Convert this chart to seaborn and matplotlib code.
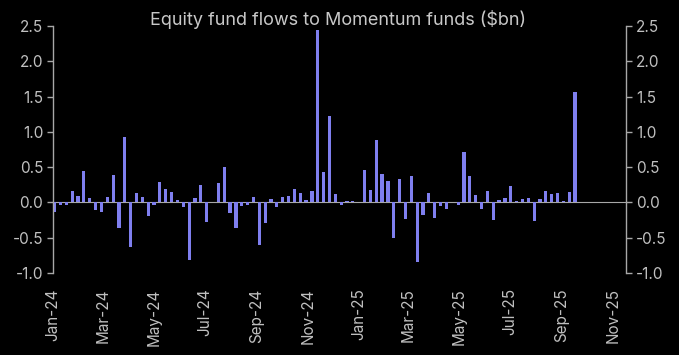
import numpy as np
import pandas as pd
import matplotlib
matplotlib.use("Agg")
from matplotlib import pyplot as plt
import matplotlib.dates as mdates
import seaborn as sns

# weekly flows, $bn
flows = [-0.14, -0.03, -0.03, 0.16, 0.09, 0.44, 0.06, -0.11, -0.14, 0.08,
         0.39, -0.36, 0.92, -0.63, 0.13, 0.07, -0.19, -0.04, 0.29, 0.19,
         0.15, 0.04, -0.06, -0.81, 0.06, 0.24, -0.28, 0.01, 0.27, 0.50,
         -0.15, -0.36, -0.05, -0.03, 0.08, -0.60, -0.29, 0.05, -0.06, 0.08,
         0.09, 0.19, 0.13, 0.03, 0.16, 2.44, 0.43, 1.22, 0.12, -0.04,
         0.02, 0.02, 0.01, 0.46, 0.17, 0.89, 0.40, 0.31, -0.50, 0.33,
         -0.24, 0.37, -0.85, -0.18, 0.13, -0.22, -0.05, -0.10, 0.01, -0.04,
         0.71, 0.38, 0.11, -0.09, 0.16, -0.25, 0.03, 0.06, 0.23, 0.02,
         0.05, 0.06, -0.27, 0.05, 0.16, 0.12, 0.14, 0.02, 0.15, 1.57]
weeks = pd.date_range("2024-01-03", periods=len(flows), freq="7D")
month_ticks = pd.date_range("2024-01-01", "2025-11-01", freq="2MS")
yticks = [-1.0, -0.5, 0.0, 0.5, 1.0, 1.5, 2.0, 2.5]

bg = "black"
grey = "#a8a8a8"
bar_col = "#7f7fef"

sns.set_style("dark")
plt.rcParams['font.family'] = ['Inter', 'DejaVu Sans']
plt.rcParams['axes.unicode_minus'] = False

df = pd.DataFrame({"x": mdates.date2num(weeks), "flow": flows})

fig = plt.figure(figsize=(6.79, 3.55), dpi=100, facecolor=bg)
ax = fig.add_axes([0.078, 0.231, 0.844, 0.696])
ax.set_facecolor(bg)

ax.axhline(0, color=grey, lw=0.8, zorder=0)
sns.barplot(data=df, x="x", y="flow", native_scale=True, width=0.55,
            color=bar_col, saturation=1, linewidth=0, ax=ax, zorder=2)

ax.set_xlim(mdates.date2num(pd.Timestamp("2024-01-01")),
            mdates.date2num(pd.Timestamp("2025-11-17")))
ax.set_ylim(-1.0, 2.5)
ax.set_xticks(mdates.date2num(month_ticks))
ax.set_xticklabels([d.strftime("%b-%y") for d in month_ticks], rotation=90)
ax.set_yticks(yticks)
ax.set_yticklabels(["%.1f" % v for v in yticks])
ax.set_xlabel("")
ax.set_ylabel("")
ax.grid(False)

for s in ["top", "right", "bottom"]:
    ax.spines[s].set_visible(False)
ax.spines["left"].set_color(grey)
ax.spines["left"].set_linewidth(1)
ax.tick_params(axis="y", colors=grey, labelcolor="#c0c0c0", labelsize=11,
               direction="out", length=4, width=1, left=True, pad=3)
ax.tick_params(axis="x", labelcolor="#c0c0c0", labelsize=11, length=0, pad=11)

ax2 = ax.twinx()
ax2.set_ylim(-1.0, 2.5)
ax2.set_yticks(yticks)
ax2.set_yticklabels(["%.1f" % v for v in yticks])
for s in ["top", "left", "bottom"]:
    ax2.spines[s].set_visible(False)
ax2.spines["right"].set_color(grey)
ax2.spines["right"].set_linewidth(1)
ax2.tick_params(axis="y", colors=grey, labelcolor="#c0c0c0", labelsize=11,
                direction="out", length=4, width=1, right=True, pad=3)
ax2.grid(False)

fig.text(0.498, 0.945, "Equity fund flows to Momentum funds ($bn)",
         ha="center", va="center", color="#c8c8c8", fontsize=13)

fig.savefig("out.png", dpi=100, facecolor=bg)
